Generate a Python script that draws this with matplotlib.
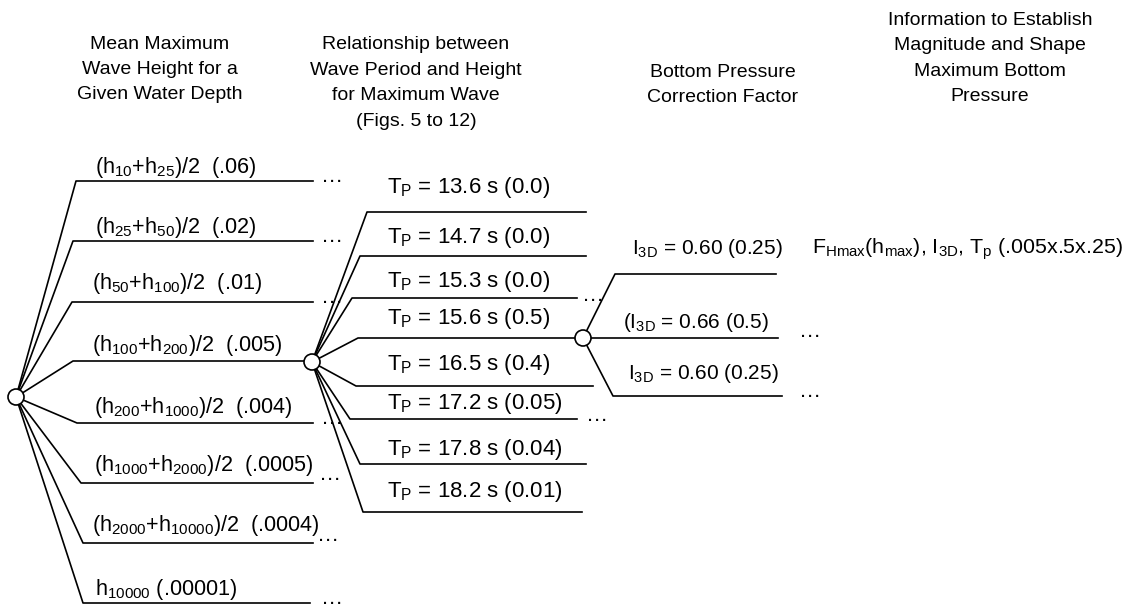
import matplotlib
matplotlib.use("Agg")
import matplotlib.pyplot as plt
from matplotlib.patches import Circle

plt.rcParams['font.family'] = ['Liberation Sans', 'DejaVu Sans']
plt.rcParams['mathtext.fontset'] = 'custom'
plt.rcParams['mathtext.rm'] = 'Liberation Sans'
plt.rcParams['mathtext.it'] = 'Liberation Sans:italic'
plt.rcParams['mathtext.default'] = 'regular'

# ---------------- data ----------------
headers = ["Mean Maximum\nWave Height for a\nGiven Water Depth",
           "Relationship between\nWave Period and Height\nfor Maximum Wave\n(Figs. 5 to 12)",
           "Bottom Pressure\nCorrection Factor",
           "Information to Establish\nMagnitude and Shape\nMaximum Bottom\nPressure"]
depth_low = [10, 25, 50, 100, 200, 1000, 2000, 10000]
depth_high = [25, 50, 100, 200, 1000, 2000, 10000, None]
depth_probs = ['.06', '.02', '.01', '.005', '.004', '.0005', '.0004', '.00001']
periods = ['13.6', '14.7', '15.3', '15.6', '16.5', '17.2', '17.8', '18.2']
period_probs = ['0.0', '0.0', '0.0', '0.5', '0.4', '0.05', '0.04', '0.01']
i3d_vals = ['0.60', '0.66', '0.60']
i3d_probs = ['0.25', '0.5', '0.25']
i3d_prefix = ['', '(', '']
final_label = r'F$_{Hmax}$(h$_{max}$), I$_{3D}$, T$_{p}$ (.005x.5x.25)'

# ---------------- layout (pixels) ----------------
W, H = 1133, 607
root = (16, 397)
node2 = (312, 362)
node3 = (583, 338)
R = 8

l1_y = [181, 241, 302, 361, 423, 483, 543, 603]
l1_x0 = [76, 73, 72, 73, 77, 81, 83, 83]
l1_x1 = [313, 313, 313, 312, 313, 313, 313, 310]
l1_tx = [95, 95, 92, 92, 94, 94, 92, 95]
l1_ty = [172.5, 232.5, 289, 351, 412.5, 471, 531, 595]
l1_dots = [(321, 182.5), (321, 242.5), (321, 303), None, (321, 424), (319, 480), (317, 541), (321, 603.5)]

l2_y = [212, 256, 298, 338, 386, 419, 464, 512]
l2_x0 = [367, 360, 352, 358, 356, 350, 360, 363]
l2_x1 = [586, 586, 577, 583, 593, 577, 586, 582]
l2_tx = 387
l2_ty = [193, 243.5, 287, 324, 370, 408.5, 455, 497]
l2_dots = {2: (582, 301), 5: (586, 421)}

l3_y = [274, 338, 396]
l3_x0 = [615, 583, 613]
l3_x1 = [776, 778, 782]
l3_tx = [632, 623, 628]
l3_ty = [254, 327.5, 379]
l3_dots = {1: (799, 337), 2: (799, 397)}

fig = plt.figure(figsize=(W / 100, H / 100), dpi=100)
ax = fig.add_axes([0, 0, 1, 1])
ax.set_xlim(0, W)
ax.set_ylim(H, 0)
ax.axis('off')

LW = 1.2
FS1 = 15.6
FS2 = 16
FS3 = 15
FSF = 15.4
FSD = 16
HFS = 14

def dlabel(lo, hi, p):
    if hi is None:
        return f'h$_{{{lo}}}$ ({p})'
    return f'(h$_{{{lo}}}$+h$_{{{hi}}}$)/2  ({p})'

# headers
hdr_pos = [(160, 69.5), (416, 83), (723, 85), (990, 58.5)]
for txt, (x, y) in zip(headers, hdr_pos):
    ax.text(x, y, txt, ha='center', va='center', fontsize=HFS, linespacing=1.65,
            multialignment='center')

# level 1
for i in range(len(depth_low)):
    y = l1_y[i]
    ax.plot([root[0], l1_x0[i], l1_x1[i]], [root[1], y, y], color='black', lw=LW)
    ax.text(l1_tx[i], l1_ty[i], dlabel(depth_low[i], depth_high[i], depth_probs[i]),
            fontsize=FS1, va='baseline', ha='left')
    if l1_dots[i] is not None:
        ax.text(l1_dots[i][0], l1_dots[i][1], '…', fontsize=FSD, va='baseline', ha='left')

# level 2
for i in range(len(periods)):
    y = l2_y[i]
    ax.plot([node2[0], l2_x0[i], l2_x1[i]], [node2[1], y, y], color='black', lw=LW)
    ax.text(l2_tx, l2_ty[i], f'T$_P$ = {periods[i]} s ({period_probs[i]})',
            fontsize=FS2, va='baseline', ha='left')
    if i in l2_dots:
        ax.text(l2_dots[i][0], l2_dots[i][1], '…', fontsize=FSD, va='baseline', ha='left')

# level 3
for i in range(len(i3d_vals)):
    y = l3_y[i]
    ax.plot([node3[0], l3_x0[i], l3_x1[i]], [node3[1], y, y], color='black', lw=LW)
    ax.text(l3_tx[i], l3_ty[i], f'{i3d_prefix[i]}I$_{{3D}}$ = {i3d_vals[i]} ({i3d_probs[i]})',
            fontsize=FS3, va='baseline', ha='left')
    if i in l3_dots:
        ax.text(l3_dots[i][0], l3_dots[i][1], '…', fontsize=FSD, va='baseline', ha='left')

ax.text(812, 254, final_label, fontsize=FSF, va='baseline', ha='left')

for c in (root, node2, node3):
    ax.add_patch(Circle(c, R, facecolor='white', edgecolor='black', lw=LW, zorder=5))

fig.savefig('out.png', dpi=100)
